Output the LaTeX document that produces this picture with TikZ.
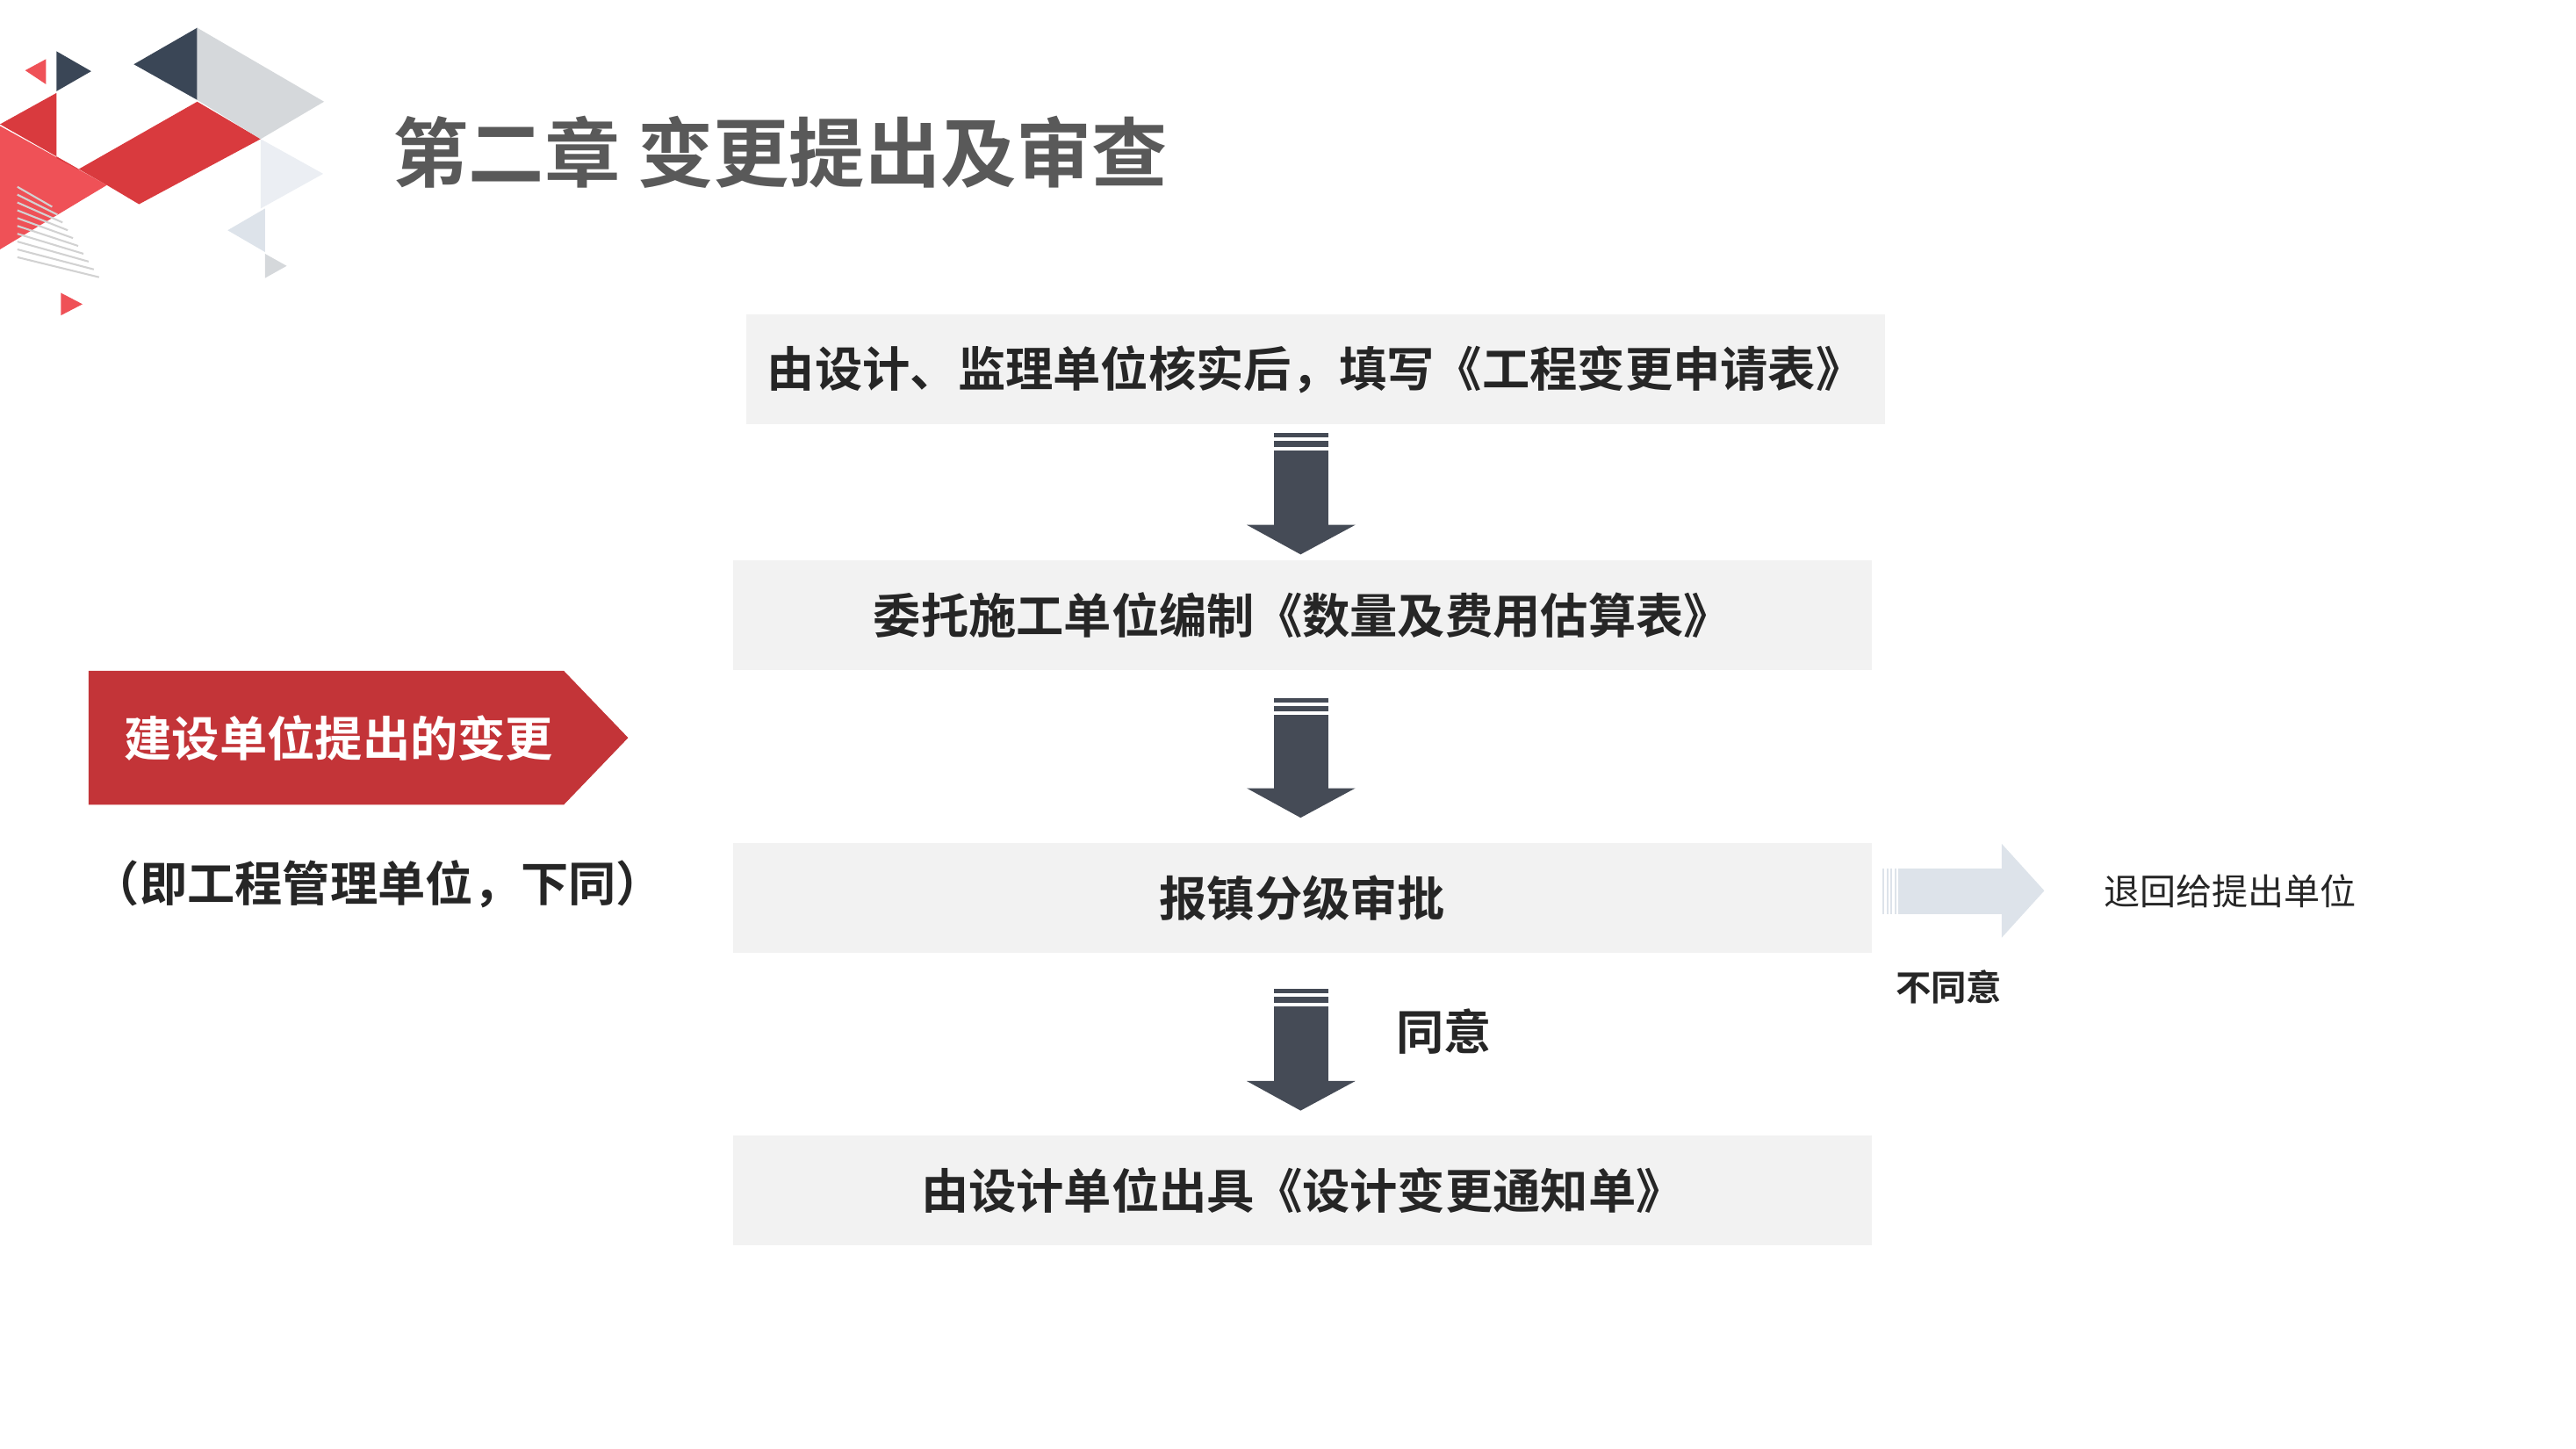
\documentclass[tikz,border=0pt]{standalone}
\usepackage{fontspec}
\setmainfont{Noto Sans CJK SC}
\newfontfamily\cjkbold{Noto Sans CJK SC Bold}
\usetikzlibrary{positioning,calc}
\definecolor{boxgray}{HTML}{F2F2F2}
\definecolor{arrowdark}{HTML}{454B56}
\definecolor{txtdark}{HTML}{262626}
\definecolor{titlegray}{HTML}{595959}
\definecolor{redband}{HTML}{D93A3E}
\definecolor{redlight}{HTML}{EF5157}
\definecolor{navy}{HTML}{3A4656}
\definecolor{lgray}{HTML}{D5D8DB}
\definecolor{paleblue}{HTML}{DDE3EA}
\tikzset{
  stepbox/.style={fill=boxgray, minimum width=13.1cm, minimum height=1.26cm,
    text=txtdark, font=\cjkbold\fontsize{15.6}{18}\selectfont}
}
\newcommand{\darrow}[2]{% top y, bottom y (px)
  \fill[arrowdark] (1466,#1) rectangle (1529,#1+5);
  \fill[arrowdark] (1466,#1+9) rectangle (1529,#1+16);
  \fill[arrowdark] (1466,#1+20) rectangle (1529,#2-34);
  \fill[arrowdark] (1435,#2-34) -- (1560,#2-34) -- (1497,#2) -- cycle;}
\begin{document}
\begin{tikzpicture}[x=0.01cm,y=-0.01cm]
  \useasboundingbox (0,0) rectangle (2965,1667);
  %logo
  \fill[redlight] (0,145) -- (123,213) -- (0,287) -- cycle;
  \fill[redband] (0,143) -- (65,107) -- (65,182) -- (90,195) -- (227,117) -- (300,160) -- (160,235) -- (123,213) -- cycle;
  \fill[redlight] (29,81) -- (53,68) -- (53,97) -- cycle;
  \fill[navy] (65,59) -- (105,82) -- (65,105) -- cycle;
  \fill[navy] (154,74) -- (227,32) -- (227,115) -- cycle;
  \fill[lgray] (227,32) -- (373,117) -- (300,160) -- (227,115) -- cycle;
  \fill[paleblue!60] (300,160) -- (372,200) -- (300,240) -- cycle;
  \fill[paleblue] (262,265) -- (305,240) -- (305,290) -- cycle;
  \fill[lgray] (305,292) -- (330,306) -- (305,320) -- cycle;
  \fill[redlight] (70,337) -- (95,350) -- (70,363) -- cycle;
  \foreach \k in {0,...,9}
    \draw[gray!35, line width=0.6pt] (20,215+\k*9) -- (60+\k*6,238+\k*9);
  %title
  \node[anchor=west, text=titlegray, font=\cjkbold\fontsize{24.8}{28}\selectfont] (title) at (440,175) {第二章 变更提出及审查};
  %boxes
  \node[stepbox] (apply) at (1514,425) {由设计、监理单位核实后，填写《工程变更申请表》};
  \node[stepbox] (budget) at (1499,708) {委托施工单位编制《数量及费用估算表》};
  \node[stepbox] (approve) at (1499,1033) {报镇分级审批};
  \node[stepbox] (notice) at (1499,1370) {由设计单位出具《设计变更通知单》};
  \darrow{498}{638}
  \darrow{803}{941}
  \darrow{1138}{1278}
  \node[text=txtdark, font=\cjkbold\fontsize{15.6}{18}\selectfont] (agree) at (1662,1187) {同意};
  %left tag
  \fill[redband!90!black] (102,772) -- (649,772) -- (723,849) -- (649,926) -- (102,926) -- cycle;
  \node[text=white, font=\cjkbold\fontsize{15.6}{18}\selectfont] (owner) at (390,849) {建设单位提出的变更};
  \node[text=txtdark, font=\cjkbold\fontsize{15.6}{18}\selectfont] (ownernote) at (435,1017) {（即工程管理单位，下同）};
  %reject arrow
  \fill[paleblue] (2185,999) rectangle (2304,1052);
  \fill[paleblue] (2304,971) -- (2353,1025) -- (2304,1079) -- cycle;
  \foreach \k in {0,...,3}
    \fill[paleblue] (2167+\k*4.5,999) rectangle (2169+\k*4.5,1052);
  \node[text=txtdark, font=\cjkbold\fontsize{11.6}{14}\selectfont] (disagree) at (2243,1136) {不同意};
  \node[text=txtdark, font=\fontsize{11.8}{14}\selectfont] (back) at (2567,1026) {退回给提出单位};
\end{tikzpicture}
\end{document}
